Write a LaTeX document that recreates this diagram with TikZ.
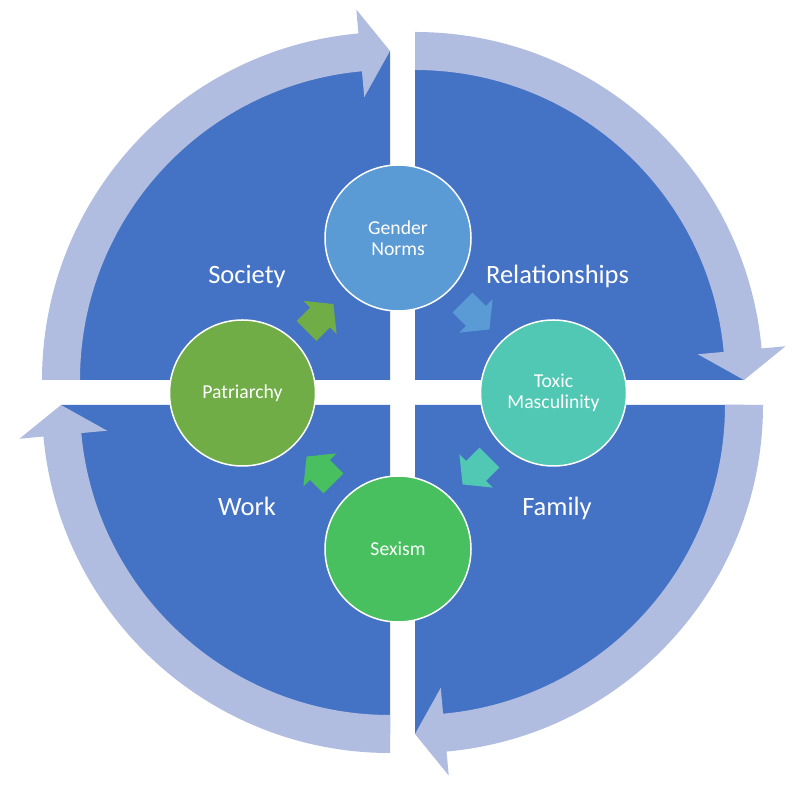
\documentclass[tikz,border=0pt]{standalone}
\usepackage{fontspec}
\setmainfont{Carlito}
\definecolor{quadblue}{HTML}{4472C4}
\definecolor{ringblue}{HTML}{B0BCE0}
\definecolor{gnblue}{HTML}{5B9BD5}
\definecolor{toxteal}{HTML}{50C8B4}
\definecolor{sexgreen}{HTML}{48C060}
\definecolor{patgreen}{HTML}{70AD47}
\tikzset{
  quad/.style={fill=quadblue},
  ringarrow/.style={fill=ringblue},
  bubble/.style={circle, draw=white, line width=1.5pt, minimum size=146pt, inner sep=0pt,
     text=white, align=center, font=\fontsize{19.7}{21}\selectfont},
  label/.style={text=white, anchor=base, inner sep=0pt, font=\fontsize{26.5}{32}\selectfont},
  blockarrow/.pic={\fill (-19,-14) -- (0,-14) -- (0,-23.5) -- (19,0) -- (0,23.5) -- (0,14) -- (-19,14) -- cycle;}
}
\begin{document}
\begin{tikzpicture}[x=1pt,y=1pt]
\useasboundingbox (0,0) rectangle (800,800);
\fill[white] (0,0) rectangle (800,800);
% quadrants
\fill[quad] (390,420) -- ++(180:329) arc[start angle=180,end angle=90,radius=329] -- cycle;
\fill[quad] (415,420) -- ++(90:329) arc[start angle=90,end angle=0,radius=329] -- cycle;
\fill[quad] (415,395) -- ++(0:329) arc[start angle=0,end angle=-90,radius=329] -- cycle;
\fill[quad] (390,395) -- ++(270:329) arc[start angle=270,end angle=180,radius=329] -- cycle;
% ring arrows
\begin{scope}[shift={(390,420)}]
\fill[ringarrow] (180:348) arc[start angle=180,end angle=95.2,radius=348] -- (95.2:372) -- (90:329) -- (95.2:284) -- (95.2:310) arc[start angle=95.2,end angle=180,radius=310] -- cycle;
\end{scope}
\begin{scope}[shift={(415,420)}]
\fill[ringarrow] (90:348) arc[start angle=90,end angle=5.2,radius=348] -- (5.2:372) -- (0:329) -- (5.2:284) -- (5.2:310) arc[start angle=5.2,end angle=90,radius=310] -- cycle;
\end{scope}
\begin{scope}[shift={(415,395)}]
\fill[ringarrow] (0:348) arc[start angle=0,end angle=-84.8,radius=348] -- (-84.8:372) -- (-90:329) -- (-84.8:284) -- (-84.8:310) arc[start angle=-84.8,end angle=0,radius=310] -- cycle;
\end{scope}
\begin{scope}[shift={(390,395)}]
\fill[ringarrow] (270:348) arc[start angle=270,end angle=185.2,radius=348] -- (185.2:372) -- (180:329) -- (185.2:284) -- (185.2:310) arc[start angle=185.2,end angle=270,radius=310] -- cycle;
\end{scope}
% circles
\node[bubble, fill=gnblue] (gn) at (398,562) {Gender\\Norms};
\node[bubble, fill=toxteal] (tox) at (553.5,407) {Toxic\\Masculinity};
\node[bubble, fill=sexgreen] (sex) at (398,251) {Sexism};
\node[bubble, fill=patgreen] (pat) at (242.5,407) {Patriarchy};
% small block arrows
\pic[patgreen, rotate=45] at (320,482.5) {blockarrow};
\pic[gnblue, rotate=-45] at (476,484) {blockarrow};
\pic[toxteal, rotate=-135] at (476,329) {blockarrow};
\pic[sexgreen, rotate=135] at (320,330) {blockarrow};
% labels
\node[label] (soc) at (247,516) {Society};
\node[label] (rel) at (557.5,516) {Relationships};
\node[label] (work) at (247,284.5) {Work};
\node[label] (fam) at (557,284.5) {Family};
\end{tikzpicture}
\end{document}
